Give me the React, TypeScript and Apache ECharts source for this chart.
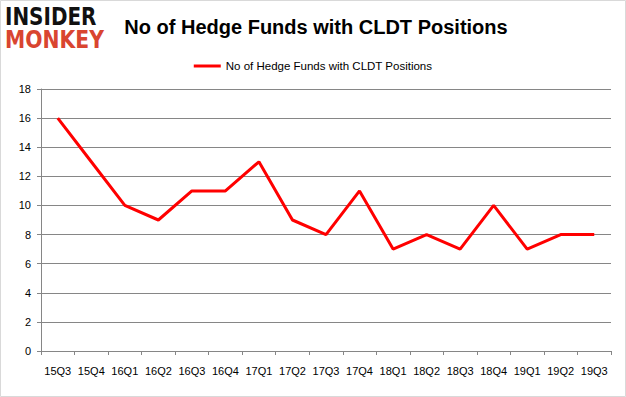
import React, { useEffect, useRef } from "react";
import * as echarts from "echarts";

const categories = ["15Q3","15Q4","16Q1","16Q2","16Q3","16Q4","17Q1","17Q2","17Q3","17Q4","18Q1","18Q2","18Q3","18Q4","19Q1","19Q2","19Q3"];
const hedgeFunds = [16,13,10,9,11,11,13,9,8,11,7,8,7,10,7,8,8];
const seriesName = "No of Hedge Funds with CLDT Positions";
const titleText = "No of Hedge Funds with CLDT Positions";

export default function App() {
  const ref = useRef<HTMLDivElement>(null);
  useEffect(() => {
    if (!ref.current) return;
    const chart = echarts.init(ref.current, undefined, { renderer: "svg" });
    chart.setOption({
      animation: false,
      backgroundColor: "#ffffff",
      title: {
        text: titleText,
        left: 311,
        textAlign: "center",
        top: 12,
        textStyle: { fontFamily: "Liberation Sans", fontWeight: "bold", fontSize: 20, color: "#000" },
      },
      legend: {
        top: 55,
        left: "center",
        itemWidth: 27,
        itemHeight: 3,
        icon: "rect",
        itemGap: 4,
        textStyle: { fontFamily: "Liberation Sans", fontSize: 11.5, color: "#000" },
        data: [seriesName],
      },
      graphic: [
        { type: "rect", shape: { x: 0.5, y: 0.5, width: 625, height: 396 }, style: { fill: "none", stroke: "#d9d9d9", lineWidth: 1 } },
        { type: "text", x: 5, y: 5, scaleX: 1.05, scaleY: 1.3, style: { text: "INSIDER", fontFamily: "DejaVu Sans", fontWeight: "bold", fontSize: 19, lineHeight: 17, fill: "#111" } },
        { type: "text", x: 5, y: 28, scaleX: 1.07, scaleY: 1.3, style: { text: "MONKEY", fontFamily: "DejaVu Sans", fontWeight: "bold", fontSize: 19, lineHeight: 17, fill: "#d94530" } },
      ],
      grid: { left: 41, right: 15, top: 89, bottom: 46 },
      xAxis: {
        type: "category",
        data: categories,
        boundaryGap: true,
        axisLine: { lineStyle: { color: "#868686" } },
        axisTick: { show: true, interval: 0, alignWithLabel: false, length: 4, lineStyle: { color: "#868686" } },
        axisLabel: { interval: 0, fontFamily: "Liberation Sans", fontSize: 11, color: "#000", margin: 14 },
      },
      yAxis: {
        type: "value",
        min: 0,
        max: 18,
        interval: 2,
        axisLine: { show: true, lineStyle: { color: "#868686" } },
        axisTick: { show: true, length: 4, lineStyle: { color: "#868686" } },
        splitLine: { lineStyle: { color: "#868686" } },
        axisLabel: { fontFamily: "Liberation Sans", fontSize: 11, color: "#000", margin: 10 },
      },
      series: [
        {
          name: seriesName,
          type: "line",
          data: hedgeFunds,
          symbol: "none",
          lineStyle: { color: "#ff0000", width: 3 },
          itemStyle: { color: "#ff0000" },
        },
      ],
    });
    return () => chart.dispose();
  }, []);
  return <div ref={ref} style={{ position: "absolute", left: 0, top: 0, width: 626, height: 397 }} />;
}
